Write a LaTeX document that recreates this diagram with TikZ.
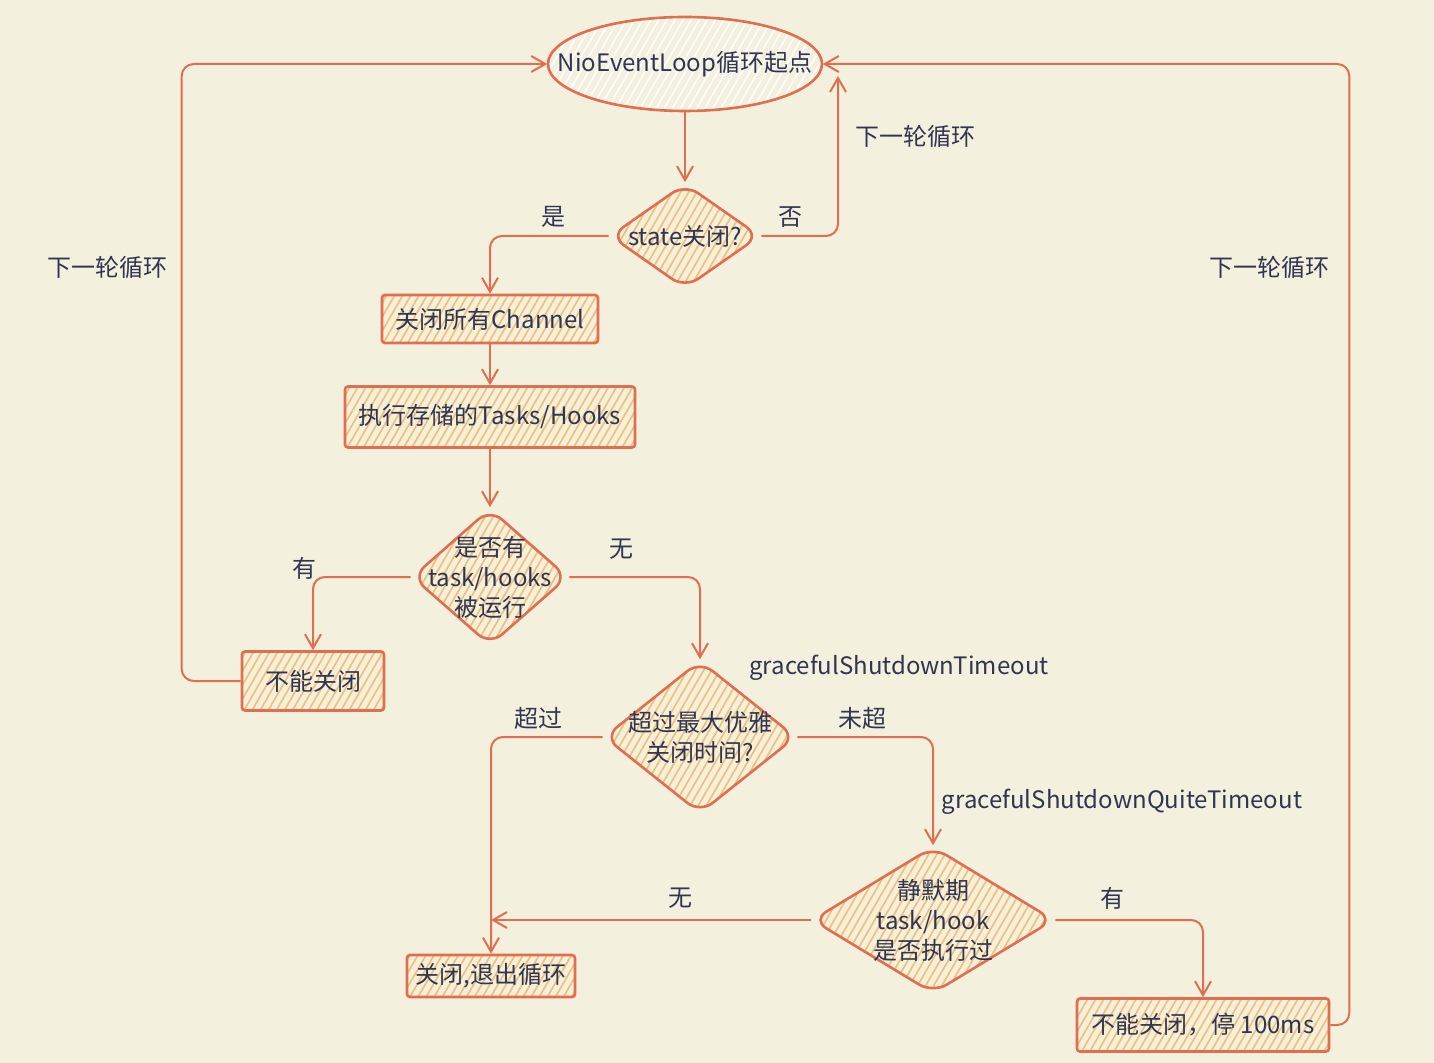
\documentclass[tikz,border=0pt]{standalone}
\usepackage{fontspec}
\setmainfont{Noto Sans CJK SC}
\usetikzlibrary{shapes.geometric,patterns.meta,arrows.meta}
\definecolor{paper}{RGB}{244,240,222}
\definecolor{sketch}{RGB}{224,110,80}
\definecolor{hatch}{RGB}{243,190,110}
\definecolor{ink}{RGB}{48,54,82}

\begin{document}
\begin{tikzpicture}[
    x=0.5pt, y=-0.5pt,
    font=\fontsize{12}{15}\selectfont, text=ink,
    hatched/.style={draw=sketch, line width=1.3pt,
                    pattern={Lines[angle=60,distance=3.5pt,line width=0.8pt]},
                    pattern color=hatch},
    box/.style={hatched, rectangle, rounded corners=1.5pt, inner sep=0pt},
    dia/.style={hatched, diamond, rounded corners=8pt, inner sep=0pt},
    txt/.style={align=center, text=ink},
    arr/.style={-{Straight Barb[length=7pt,width=8pt]}, line width=1pt,
                draw=sketch, rounded corners=6pt}
  ]
    \fill[paper] (0,0) rectangle (1434,1063);
    \useasboundingbox (0,0) rectangle (1434,1063);

    % shapes
    \node[hatched, ellipse, pattern color=white, inner sep=0pt,
          minimum width=137pt, minimum height=47pt] (start) at (685,64) {};
    \node[txt] (start-t) at (start) {NioEventLoop循环起点};
    \node[dia, minimum width=75pt, minimum height=52.5pt] (state) at (685,236) {};
    \node[txt] (state-t) at (state) {state关闭?};
    \node[box, minimum width=108pt, minimum height=24pt] (chan) at (490,319) {关闭所有Channel};
    \node[box, minimum width=145pt, minimum height=30.5pt] (tasks) at (490,417) {执行存储的Tasks/Hooks};
    \node[dia, minimum width=78pt, minimum height=68.5pt] (hooks) at (490,577) {};
    \node[txt] (hooks-t) at (hooks) {是否有\\task/hooks\\被运行};
    \node[box, minimum width=71pt, minimum height=29.5pt] (stop) at (313,681) {不能关闭};
    \node[dia, minimum width=96pt, minimum height=76.5pt] (timeout) at (700,737) {};
    \node[txt] (timeout-t) at (timeout) {超过最大优雅\\关闭时间?};
    \node[dia, minimum width=121pt, minimum height=73.5pt] (quiet) at (933,920) {};
    \node[txt] (quiet-t) at (quiet) {静默期\\task/hook\\是否执行过};
    \node[box, minimum width=84pt, minimum height=21pt] (quit) at (491,976) {关闭,退出循环};
    \node[box, minimum width=126pt, minimum height=26.5pt] (wait) at (1203,1025) {不能关闭，停 100ms};

    \coordinate (back) at (838,76);
    \coordinate (join) at (quit |- quiet);

    % connectors
    \draw[arr] (start) -- (state);
    \draw[arr] (state.west) -| (chan);
    \draw[arr] (state.east) -| (back);
    \draw[arr] (chan) -- (tasks);
    \draw[arr] (tasks) -- (hooks);
    \draw[arr] (hooks.west) -| (stop);
    \draw[arr] (hooks.east) -| (timeout);
    \draw[arr] (stop.west) -- ++(-59,0) |- (start.west);
    \draw[arr] (timeout.west) -| (quit);
    \draw[arr] (timeout.east) -| (quiet);
    \draw[arr] (quiet.west) -- (join);
    \draw[arr] (quiet.east) -| (wait);
    \draw[arr] (wait.east) -- ++(19,0) |- (start.east);

    % labels
    \node (yes) at (553,217) {是};
    \node (no) at (790,217) {否};
    \node (loop1) at (915,136) {下一轮循环};
    \node (loop2) at (107,267) {下一轮循环};
    \node (loop3) at (1269,267) {下一轮循环};
    \node (has) at (304,568) {有};
    \node (none) at (621,549) {无};
    \node (gst) at (899,668) {gracefulShutdownTimeout};
    \node (over) at (538,718) {超过};
    \node (under) at (862,718) {未超};
    \node (gsqt) at (1122,802) {gracefulShutdownQuiteTimeout};
    \node (none2) at (680,898) {无};
    \node (has2) at (1112,898) {有};
\end{tikzpicture}
\end{document}
